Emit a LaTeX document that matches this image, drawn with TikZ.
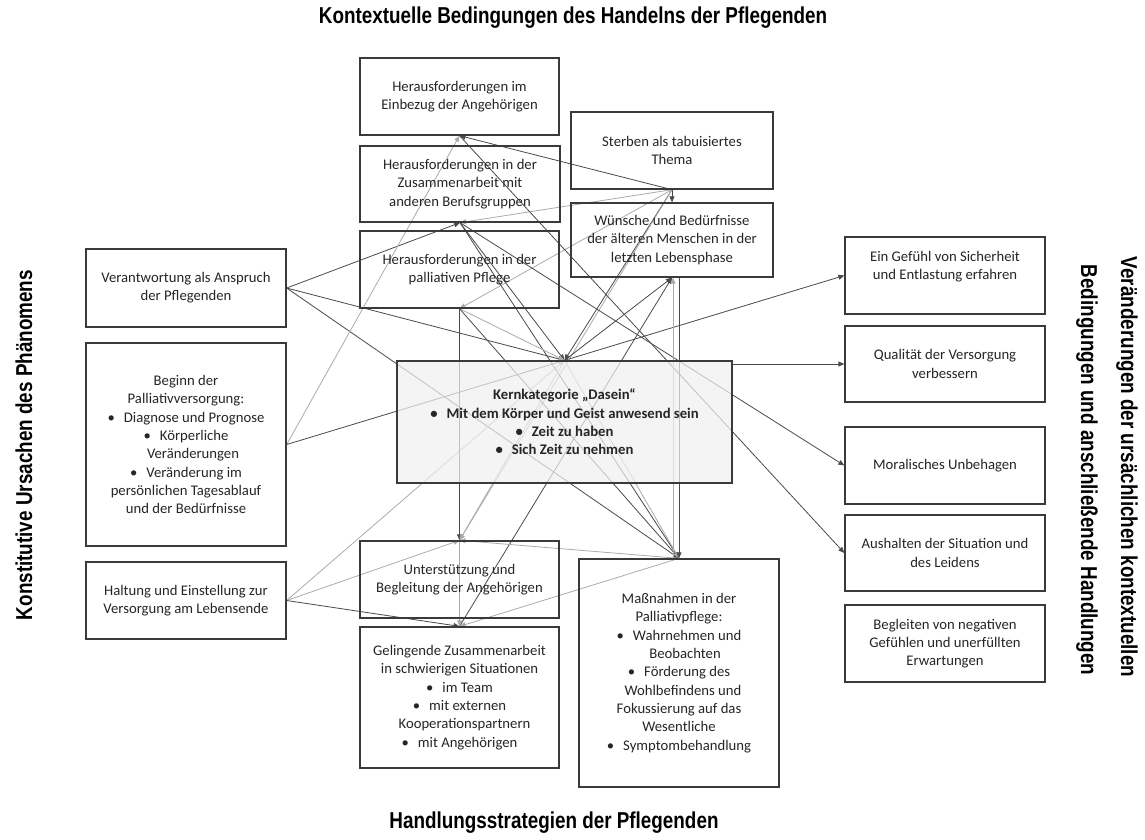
\documentclass[tikz,border=0pt]{standalone}
\usepackage{fontspec}
\setmainfont{Carlito}
\newfontfamily\titlefont[FakeStretch=0.82]{Liberation Sans}
\usetikzlibrary{arrows.meta,calc}
\pgfdeclarelayer{bg}
\pgfdeclarelayer{paper}
\pgfsetlayers{paper,bg,main}
\definecolor{ln}{HTML}{4a4a4a}
\definecolor{lg}{HTML}{ababab}
\definecolor{bx}{HTML}{3a3a3a}
\definecolor{kf}{HTML}{f0f0f0}
\definecolor{tx}{HTML}{262626}
\tikzset{
  box/.style={draw=bx,line width=1.3pt,minimum width=200pt,inner sep=0pt,align=center,
    font=\fontsize{14.7}{18.3}\selectfont,text=tx},
  boxtxt/.style={inner sep=0pt,align=center,font=\fontsize{14.7}{18.3}\selectfont,text=tx},
  blk/.style={draw=ln,line width=0.8pt,-{Triangle[length=6pt,width=5pt]}},
  lgt/.style={draw=lg,line width=0.8pt,-{Triangle[length=6pt,width=5pt]}},
  ttl/.style={inner sep=0pt,font=\fontsize{23}{27}\titlefont\bfseries,text=black},
}
\newcommand{\bul}{\textbullet\hspace{9pt}}
\begin{document}
\begin{tikzpicture}[x=1pt,y=-1pt]
\useasboundingbox (0,0) rectangle (1145,839);
\begin{pgfonlayer}{paper}
\fill[white] (0,0) rectangle (1145,839);
\end{pgfonlayer}

% titles
\node[ttl] (tTop) at (573,18) {Kontextuelle Bedingungen des Handelns der Pflegenden};
\node[ttl] (tBot) at (554,823) {Handlungsstrategien der Pflegenden};
\node[ttl,rotate=90] (tLeft) at (24,445) {Konstitutive Ursachen des Phänomens};
\node[ttl,rotate=-90] (tR1) at (1127,467) {Veränderungen der ursächlichen kontextuellen};
\node[ttl,rotate=-90] (tR2) at (1087,470) {Bedingungen und anschließende Handlungen};

% top boxes
\node[box,minimum height=77pt,minimum width=199pt] (ein) at (459.5,96.5) {Herausforderungen im\\Einbezug der Angehörigen};
\node[box,minimum height=76pt] (zus) at (460,184) {Herausforderungen in der\\Zusammenarbeit mit\\anderen Berufsgruppen};
\node[box,minimum height=77pt,minimum width=199pt] (pal) at (459.5,269.5) {Herausforderungen in der\\palliativen Pflege};
\node[box,minimum height=77pt,minimum width=202pt] (ster) at (672,150.5) {Sterben als tabuisiertes\\Thema};
\node[box,minimum height=74pt,minimum width=202pt] (wun) at (672,240) {Wünsche und Bedürfnisse\\der älteren Menschen in der\\letzten Lebensphase};

% left boxes
\node[box,minimum height=78pt] (ver) at (186,288) {Verantwortung als Anspruch\\der Pflegenden};
\node[box,minimum height=203pt] (beg) at (186,444.5) {Beginn der\\Palliativversorgung:\\\bul Diagnose und Prognose\\\bul Körperliche\\\hspace{14pt}Veränderungen\\\bul Veränderung im\\persönlichen Tagesablauf\\und der Bedürfnisse};
\node[box,minimum height=77pt] (hal) at (186,600.5) {Haltung und Einstellung zur\\Versorgung am Lebensende};

% core
\node[box,minimum height=122pt,minimum width=335pt,fill=kf,fill opacity=0.72,text opacity=1] (kern) at (564.5,422)
  {\bfseries Kernkategorie „Dasein“\\\bfseries\bul Mit dem Körper und Geist anwesend sein\\\bfseries\bul Zeit zu haben\\\bfseries\bul Sich Zeit zu nehmen};

% bottom boxes
\node[box,minimum height=77pt,minimum width=199pt] (unt) at (459.5,579.5) {Unterstützung und\\Begleitung der Angehörigen};
\node[box,minimum height=141pt,minimum width=199pt] (gel) at (459.5,697.5) {Gelingende Zusammenarbeit\\in schwierigen Situationen\\\bul im Team\\\bul mit externen\\\hspace{10pt}Kooperationspartnern\\\bul mit Angehörigen};
\node[box,minimum height=228pt] (mas) at (679,673) {Maßnahmen in der\\Palliativpflege:\\\bul Wahrnehmen und\\\hspace{12pt}Beobachten\\\bul Förderung des\\\hspace{8pt}Wohlbefindens und\\Fokussierung auf das\\Wesentliche\\\bul Symptombehandlung};

% right boxes
\node[box,minimum height=77pt] (gef) at (945,275.5) {};
\node[boxtxt] (gefT) at (945,267) {Ein Gefühl von Sicherheit\\und Entlastung erfahren};
\node[box,minimum height=76pt] (qua) at (945,364) {Qualität der Versorgung\\verbessern};
\node[box,minimum height=77pt] (mor) at (945,465.5) {Moralisches Unbehagen};
\node[box,minimum height=76pt] (aus) at (945,553) {Aushalten der Situation und\\des Leidens};
\node[box,minimum height=77pt] (bgl) at (945,643.5) {Begleiten von negativen\\Gefühlen und unerfüllten\\Erwartungen};

\begin{pgfonlayer}{bg}
% from Verantwortung
\draw[blk] (ver.east) -- (zus.south);
\draw[blk] (ver.east) -- (kern.north);
\draw[blk] (ver.east) -- (mas.north);
% from Beginn
\draw[lgt] (beg.east) -- (ein.south);
\draw[blk] (beg.east) -- (kern.north);
% from Haltung
\draw[lgt] (hal.east) -- (kern.north);
\draw[lgt] (hal.east) -- (unt.north);
\draw[blk] (hal.east) -- (gel.north);
% from Sterben
\draw[blk] (ster.south) -- (ein.south);
\draw[lgt] (ster.south) -- (zus.south);
\draw[lgt] (ster.south) -- (pal.south);
\draw[blk] (ster.south) -- (wun.north);
\draw[blk] (ster.south) -- (kern.north);
\draw[lgt] (ster.south) -- (unt.north);
% context boxes
\draw[blk] (zus.south) -- (kern.north);
\draw[blk] (zus.south) -- (mas.north);
\draw[blk] (zus.south) -- (mor.west);
\draw[blk] (ein.south) -- (aus.west);
\draw[lgt] (pal.south) -- (kern.north);
\draw[blk] (pal.south) -- (unt.north);
\draw[blk] (pal.south) -- (mas.north);
% core
\draw[blk] (kern.north) -- (wun.south);
\draw[blk] (kern.north) -- (gef.west);
\draw[blk] (kern.east |- qua.west) -- (qua.west);
\draw[lgt] (kern.north) -- (unt.north);
\draw[lgt] (kern.north) -- (mas.north);
% strategies
\draw[blk] (gel.north) -- (wun.south);
\draw[lgt] (unt.north) -- (gel.north);
\draw[lgt] (mas.north) -- (unt.north);
\draw[lgt] (mas.north) -- (gel.north);
\draw[blk] (wun.south -| mas.north) -- (mas.north);
\draw[lgt] ($(mas.north)+(-6,0)$) -- ($(wun.south -| mas.north)+(-6,0)$);
\end{pgfonlayer}
\end{tikzpicture}
\end{document}
